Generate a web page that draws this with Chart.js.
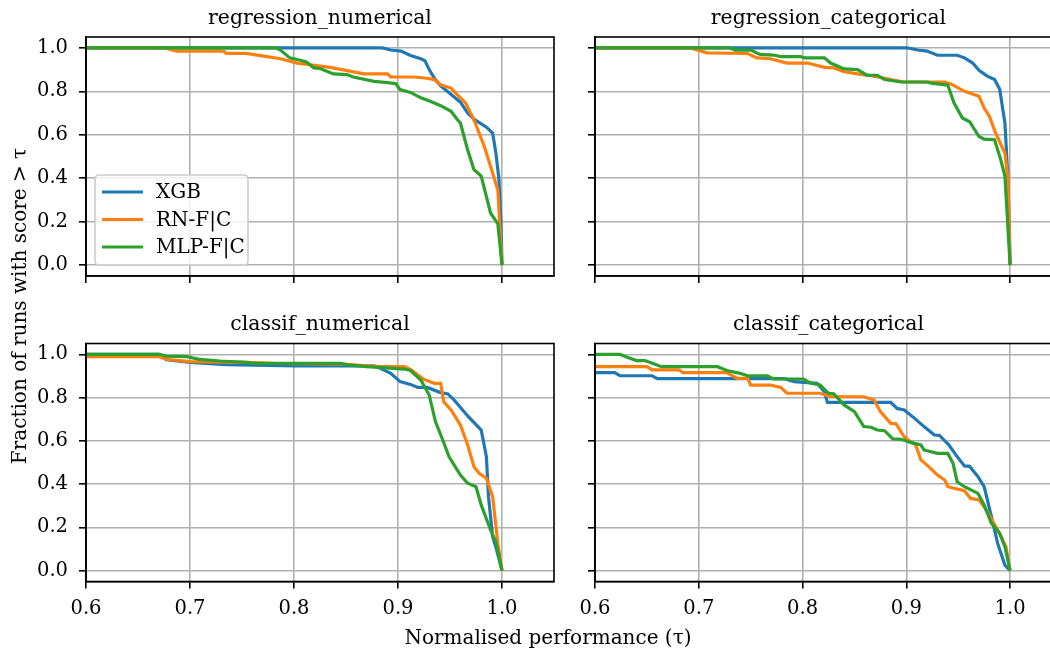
<!DOCTYPE html>
<html>
<head>
<meta charset="utf-8">
<script src="https://cdn.jsdelivr.net/npm/chart.js@4.4.1/dist/chart.umd.min.js"></script>
<style>
  html, body { margin: 0; padding: 0; background: #fff; width: 1050px; height: 653px; overflow: hidden; }
  canvas { position: absolute; left: 0; top: 0; }
</style>
</head>
<body>
<canvas id="c0" width="1070" height="653"></canvas>
<canvas id="c1" width="1070" height="653"></canvas>
<canvas id="c2" width="1070" height="653"></canvas>
<canvas id="c3" width="1070" height="653"></canvas>
<script>
// Data (tau, fraction of runs with score > tau)
const seriesNames = ['XGB', 'RN-F|C', 'MLP-F|C'];
const panelTitles = ['regression_numerical', 'regression_categorical', 'classif_numerical', 'classif_categorical'];
const xTicks = [0.6, 0.7, 0.8, 0.9, 1.0];
const yTicks = [0.0, 0.2, 0.4, 0.6, 0.8, 1.0];

const regNumXGB = [[0.6,1],[0.885,1],[0.893,0.99],[0.903,0.985],[0.912,0.965],[0.922,0.95],[0.926,0.94],[0.930,0.90],[0.935,0.86],[0.941,0.825],[0.950,0.79],[0.960,0.75],[0.967,0.70],[0.973,0.672],[0.985,0.635],[0.991,0.608],[0.994,0.52],[0.997,0.40],[0.999,0.2],[1.0,0]];
const regNumRN = [[0.6,1],[0.676,1],[0.687,0.985],[0.732,0.985],[0.735,0.975],[0.754,0.975],[0.774,0.96],[0.787,0.95],[0.803,0.93],[0.819,0.92],[0.835,0.91],[0.851,0.895],[0.867,0.88],[0.890,0.88],[0.893,0.866],[0.915,0.866],[0.928,0.86],[0.935,0.854],[0.941,0.83],[0.951,0.815],[0.957,0.785],[0.965,0.746],[0.973,0.67],[0.983,0.546],[0.988,0.47],[0.996,0.346],[1.0,0]];
const regNumMLP = [[0.6,1],[0.782,1],[0.787,0.99],[0.796,0.954],[0.806,0.943],[0.812,0.935],[0.819,0.908],[0.825,0.905],[0.838,0.88],[0.851,0.877],[0.857,0.866],[0.877,0.846],[0.890,0.84],[0.898,0.835],[0.902,0.808],[0.912,0.795],[0.922,0.77],[0.931,0.754],[0.941,0.734],[0.951,0.708],[0.957,0.67],[0.960,0.654],[0.967,0.53],[0.973,0.44],[0.980,0.41],[0.989,0.24],[0.996,0.19],[1.0,0]];

const regCatXGB = [[0.6,1],[0.901,1],[0.911,0.99],[0.920,0.985],[0.930,0.966],[0.949,0.966],[0.956,0.954],[0.964,0.93],[0.970,0.897],[0.978,0.87],[0.985,0.854],[0.990,0.81],[0.995,0.654],[0.998,0.39],[1.0,0]];
const regCatRN = [[0.6,1],[0.692,1],[0.708,0.977],[0.747,0.974],[0.756,0.954],[0.769,0.95],[0.785,0.93],[0.805,0.93],[0.821,0.91],[0.830,0.908],[0.840,0.89],[0.853,0.88],[0.869,0.87],[0.885,0.854],[0.898,0.843],[0.937,0.843],[0.943,0.834],[0.956,0.80],[0.970,0.777],[0.975,0.723],[0.980,0.685],[0.986,0.608],[0.995,0.515],[0.998,0.39],[1.0,0]];
const regCatMLP = [[0.6,1],[0.730,1],[0.735,0.99],[0.750,0.99],[0.759,0.97],[0.772,0.967],[0.779,0.96],[0.798,0.96],[0.802,0.954],[0.821,0.954],[0.827,0.93],[0.840,0.903],[0.853,0.90],[0.862,0.874],[0.872,0.874],[0.879,0.854],[0.895,0.843],[0.920,0.843],[0.924,0.838],[0.940,0.828],[0.946,0.746],[0.954,0.677],[0.961,0.66],[0.970,0.592],[0.975,0.58],[0.985,0.577],[0.991,0.485],[0.995,0.41],[1.0,0]];

const clsNumXGB = [[0.6,1],[0.670,1],[0.677,0.975],[0.700,0.963],[0.735,0.952],[0.803,0.947],[0.877,0.947],[0.883,0.935],[0.893,0.912],[0.902,0.874],[0.912,0.861],[0.919,0.847],[0.928,0.847],[0.941,0.823],[0.948,0.817],[0.954,0.789],[0.967,0.715],[0.980,0.65],[0.985,0.527],[0.987,0.342],[0.991,0.157],[0.994,0.111],[1.0,0]];
const clsNumRN = [[0.6,0.989],[0.671,0.989],[0.677,0.977],[0.690,0.971],[0.700,0.966],[0.754,0.963],[0.780,0.958],[0.851,0.954],[0.867,0.948],[0.883,0.943],[0.906,0.943],[0.912,0.93],[0.925,0.884],[0.935,0.866],[0.941,0.866],[0.944,0.781],[0.951,0.743],[0.960,0.673],[0.967,0.581],[0.973,0.481],[0.978,0.45],[0.985,0.427],[0.991,0.342],[0.996,0.126],[1.0,0]];
const clsNumMLP = [[0.6,1],[0.671,1],[0.677,0.992],[0.697,0.989],[0.709,0.977],[0.729,0.969],[0.754,0.963],[0.761,0.958],[0.845,0.958],[0.851,0.951],[0.870,0.943],[0.906,0.932],[0.912,0.925],[0.922,0.881],[0.930,0.812],[0.936,0.689],[0.943,0.604],[0.949,0.527],[0.960,0.442],[0.967,0.404],[0.975,0.388],[0.980,0.304],[0.989,0.188],[0.994,0.134],[1.0,0]];

const clsCatXGB = [[0.6,0.915],[0.619,0.915],[0.624,0.901],[0.655,0.901],[0.660,0.888],[0.782,0.888],[0.792,0.874],[0.814,0.866],[0.821,0.827],[0.824,0.778],[0.885,0.778],[0.891,0.75],[0.898,0.743],[0.908,0.704],[0.917,0.666],[0.927,0.627],[0.932,0.625],[0.941,0.581],[0.949,0.527],[0.956,0.484],[0.961,0.482],[0.969,0.435],[0.975,0.388],[0.982,0.25],[0.988,0.126],[0.995,0.026],[1.0,0]];
const clsCatRN = [[0.6,0.943],[0.650,0.943],[0.655,0.928],[0.681,0.928],[0.685,0.915],[0.727,0.915],[0.737,0.889],[0.747,0.889],[0.750,0.858],[0.769,0.858],[0.779,0.847],[0.785,0.82],[0.817,0.82],[0.827,0.804],[0.859,0.804],[0.869,0.789],[0.875,0.735],[0.885,0.681],[0.890,0.679],[0.898,0.619],[0.904,0.596],[0.909,0.581],[0.914,0.512],[0.920,0.488],[0.930,0.442],[0.937,0.419],[0.940,0.388],[0.946,0.381],[0.956,0.37],[0.962,0.334],[0.970,0.327],[0.978,0.273],[0.988,0.188],[0.996,0.111],[1.0,0]];
const clsCatMLP = [[0.6,1],[0.624,1],[0.631,0.986],[0.640,0.971],[0.648,0.971],[0.656,0.958],[0.664,0.943],[0.718,0.943],[0.727,0.925],[0.740,0.912],[0.747,0.901],[0.766,0.901],[0.772,0.886],[0.801,0.886],[0.808,0.866],[0.817,0.858],[0.825,0.82],[0.830,0.818],[0.840,0.766],[0.850,0.735],[0.859,0.666],[0.866,0.663],[0.872,0.65],[0.879,0.647],[0.887,0.609],[0.895,0.607],[0.904,0.593],[0.914,0.581],[0.917,0.558],[0.930,0.542],[0.940,0.542],[0.945,0.496],[0.949,0.411],[0.956,0.388],[0.969,0.357],[0.975,0.304],[0.982,0.219],[0.990,0.173],[0.995,0.111],[1.0,0]];

const colors = ['#1f77b4', '#ff7f0e', '#2ca02c'];
const FONT = "'DejaVu Serif', 'Liberation Serif', serif";

// panel boxes in page pixels: [left, top, right, bottom]
const boxes = [
  [86, 37, 554, 276],
  [595, 37, 1062, 276],
  [86, 343.5, 554, 581.5],
  [595, 343.5, 1062, 581.5]
];
const panelData = [
  [regNumXGB, regNumRN, regNumMLP],
  [regCatXGB, regCatRN, regCatMLP],
  [clsNumXGB, clsNumRN, clsNumMLP],
  [clsCatXGB, clsCatRN, clsCatMLP]
];

const CW = 1070, CH = 653, YW = 60, XH = 40;

const framePlugin = {
  id: 'frame',
  afterDraw(chart, args, opts) {
    const { ctx, chartArea: a } = chart;
    ctx.save();
    ctx.strokeStyle = '#000';
    ctx.lineWidth = 1.6;
    ctx.strokeRect(a.left, a.top, a.right - a.left, a.bottom - a.top);
    ctx.fillStyle = '#000';
    ctx.font = '20.4px ' + FONT;
    ctx.textAlign = 'center';
    ctx.textBaseline = 'alphabetic';
    ctx.fillText(opts.title, (a.left + a.right) / 2, a.top - 13.5);

    if (opts.legend) {
      const x0 = 95, y0 = 175, w = 153, h = 90, r = 4;
      ctx.beginPath();
      ctx.roundRect(x0, y0, w, h, r);
      ctx.fillStyle = 'rgba(255,255,255,0.8)';
      ctx.fill();
      ctx.strokeStyle = '#cccccc';
      ctx.lineWidth = 1.6;
      ctx.stroke();
      ctx.font = '20px ' + FONT;
      ctx.textAlign = 'left';
      ctx.textBaseline = 'middle';
      seriesNames.forEach((name, i) => {
        const y = 192 + i * 27.5;
        ctx.beginPath();
        ctx.moveTo(102, y);
        ctx.lineTo(143, y);
        ctx.strokeStyle = colors[i];
        ctx.lineWidth = 3.2;
        ctx.stroke();
        ctx.fillStyle = '#000';
        ctx.fillText(name, 156, y + 1);
      });
    }

    if (opts.axisLabels) {
      ctx.fillStyle = '#000';
      ctx.font = '20px ' + FONT;
      ctx.textAlign = 'center';
      ctx.textBaseline = 'alphabetic';
      ctx.fillText('Normalised performance (\u03c4)', 548, 644);
      ctx.save();
      ctx.translate(26, 306);
      ctx.rotate(-Math.PI / 2);
      ctx.fillText('Fraction of runs with score > \u03c4', 0, 0);
      ctx.restore();
    }
    ctx.restore();
  }
};

function makePanel(i) {
  const [L, T, R, B] = boxes[i];
  const showX = i >= 2;
  const showY = i % 2 === 0;
  const datasets = panelData[i].map((pts, k) => ({
    label: seriesNames[k],
    data: pts.map(p => ({ x: p[0], y: p[1] })),
    borderColor: colors[k],
    borderWidth: 3.2,
    pointRadius: 0,
    fill: false,
    tension: 0,
    order: 3 - k
  }));
  const axisBase = {
    type: 'linear',
    grid: { color: '#b0b0b0', lineWidth: 1.6, tickColor: '#000', tickWidth: 1.6, tickLength: 7 },
    border: { display: true, color: '#000', width: 1.6 }
  };
  new Chart(document.getElementById('c' + i), {
    type: 'line',
    data: { datasets },
    options: {
      responsive: false,
      animation: false,
      events: [],
      layout: { padding: { left: L - YW, top: T, right: CW - R, bottom: CH - B - XH } },
      plugins: {
        legend: { display: false },
        tooltip: { enabled: false },
        frame: { title: panelTitles[i], legend: i === 0, axisLabels: i === 2 }
      },
      scales: {
        x: Object.assign({}, axisBase, {
          min: 0.6, max: 1.05,
          afterBuildTicks: s => { s.ticks = xTicks.map(v => ({ value: v })); },
          afterFit: s => { s.height = XH; },
          ticks: {
            autoSkip: false, maxRotation: 0, padding: 9,
            color: '#000', font: { family: FONT, size: 19.5 },
            callback: v => showX ? v.toFixed(1) : ''
          }
        }),
        y: Object.assign({}, axisBase, {
          min: -0.05, max: 1.05,
          afterBuildTicks: s => { s.ticks = yTicks.map(v => ({ value: v })); },
          afterFit: s => { s.width = YW; },
          ticks: {
            autoSkip: false, padding: 11,
            color: '#000', font: { family: FONT, size: 19.5 },
            callback: v => showY ? v.toFixed(1) : ''
          }
        })
      }
    },
    plugins: [framePlugin]
  });
}

[0, 1, 2, 3].forEach(makePanel);
</script>
</body>
</html>
